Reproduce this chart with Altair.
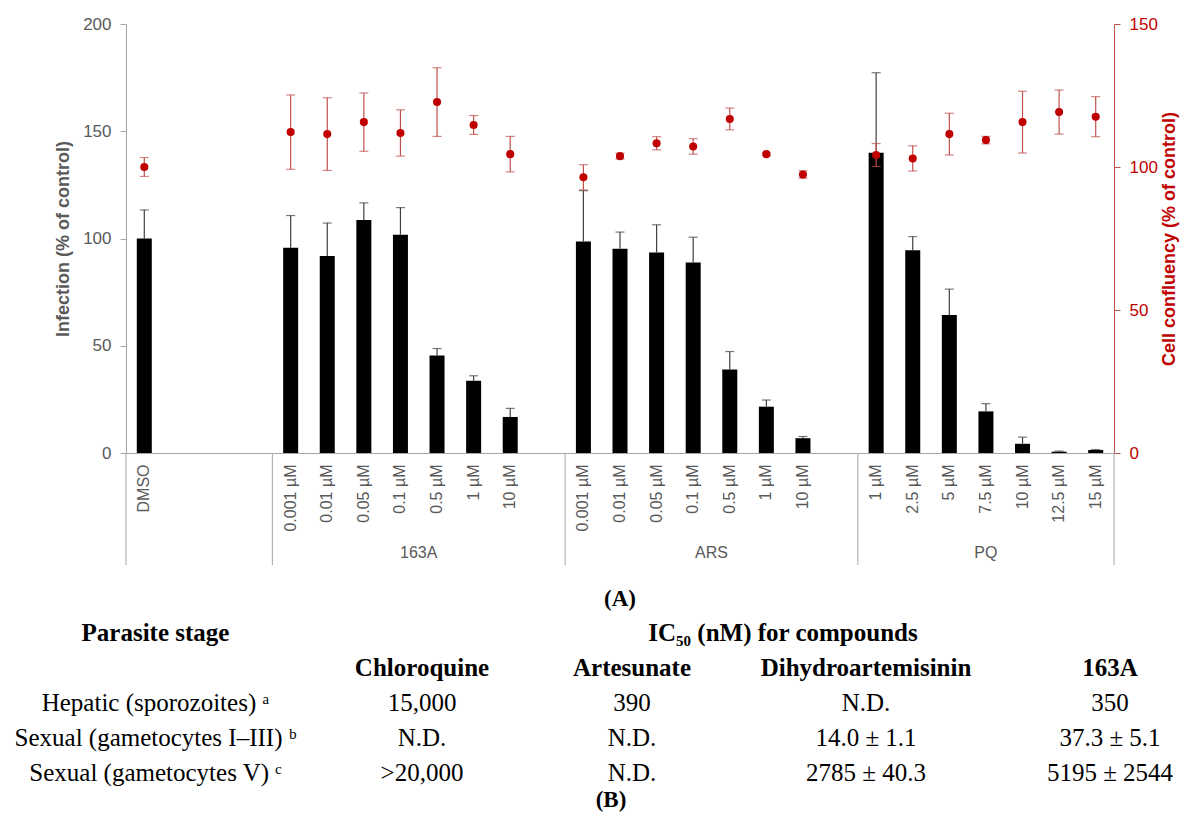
import altair as alt
import pandas as pd

# ---------------- categories ----------------
group_names = ["", "163A", "ARS", "PQ"]
dmso_conc = ["DMSO"]
a163_conc = ["0.001 µM", "0.01 µM", "0.05 µM", "0.1 µM", "0.5 µM", "1 µM", "10 µM"]
ars_conc = ["0.001 µM", "0.01 µM", "0.05 µM", "0.1 µM", "0.5 µM", "1 µM", "10 µM"]
pq_conc = ["1 µM", "2.5 µM", "5 µM", "7.5 µM", "10 µM", "12.5 µM", "15 µM"]
empty_slots_after = [3, 1, 1, 0]

# ---------------- infection (% of control), left axis ----------------
dmso_inf = [100.0]
dmso_inf_err = [13.3]
a163_inf = [95.7, 91.8, 108.6, 101.8, 45.4, 33.7, 16.8]
a163_inf_err = [15.0, 15.4, 8.0, 12.6, 3.3, 2.3, 4.0]
ars_inf = [98.6, 95.2, 93.5, 88.8, 38.9, 21.6, 6.9]
ars_inf_err = [23.7, 7.8, 12.9, 11.8, 8.4, 3.1, 0.8]
pq_inf = [140.0, 94.5, 64.3, 19.4, 4.3, 0.6, 1.4]
pq_inf_err = [37.3, 6.4, 12.1, 3.6, 3.1, 0.3, 0.2]

# ---------------- cell confluency (% of control), right axis ----------------
dmso_conf = [100.0]
dmso_conf_err = [3.3]
a163_conf = [112.2, 111.5, 115.7, 111.9, 122.7, 114.7, 104.5]
a163_conf_err = [13.0, 12.7, 10.2, 8.1, 12.0, 3.3, 6.2]
ars_conf = [96.4, 103.8, 108.3, 107.2, 116.8, 104.5, 97.4]
ars_conf_err = [4.4, 1.0, 2.3, 2.7, 3.8, 0.5, 1.3]
pq_conf = [104.2, 103.0, 111.5, 109.4, 115.7, 119.2, 117.6]
pq_conf_err = [4.0, 4.4, 7.3, 1.3, 10.8, 7.7, 7.0]

# ---------------- table (B) ----------------
table_stage_header = "Parasite stage"
table_ic50_header = "IC₅₀ (nM) for compounds"
table_compounds = ["Chloroquine", "Artesunate", "Dihydroartemisinin", "163A"]
table_stages = ["Hepatic (sporozoites) ᵃ", "Sexual (gametocytes I–III) ᵇ", "Sexual (gametocytes V) ᶜ"]
chloroquine_vals = ["15,000", "N.D.", ">20,000"]
artesunate_vals = ["390", "N.D.", "N.D."]
dha_vals = ["N.D.", "14.0 ± 1.1", "2785 ± 40.3"]
c163a_vals = ["350", "37.3 ± 5.1", "5195 ± 2544"]
panel_a = "(A)"
panel_b = "(B)"

# ---------------- build tables ----------------
groups = [
    ("", dmso_conc, dmso_inf, dmso_inf_err, dmso_conf, dmso_conf_err),
    ("163A", a163_conc, a163_inf, a163_inf_err, a163_conf, a163_conf_err),
    ("ARS", ars_conc, ars_inf, ars_inf_err, ars_conf, ars_conf_err),
    ("PQ", pq_conc, pq_inf, pq_inf_err, pq_conf, pq_conf_err),
]
keys, rows, sizes = [], [], []
for (g, conc, inf, ierr, conf, cerr), nblank in zip(groups, empty_slots_after):
    for c, i, ie, cf, ce in zip(conc, inf, ierr, conf, cerr):
        k = f"{g}|{c}"
        keys.append(k)
        rows.append(dict(key=k, inf=i, inf_hi=i + ie, conf=cf,
                         conf_lo=cf - ce, conf_hi=cf + ce))
    for b in range(nblank):
        keys.append(f"~{g}{b}|")
    sizes.append(len(conc) + nblank)
df = pd.DataFrame(rows)
n_slots = len(keys)

bounds = [0]
for s in sizes:
    bounds.append(bounds[-1] + s)
div_df = pd.DataFrame({"b": bounds})
grp_df = pd.DataFrame({
    "name": [g for g in group_names if g],
    "c": [(bounds[i] + bounds[i + 1]) / 2 for i, g in enumerate(group_names) if g],
})

tab_rows = []
tab_rows.append(dict(t=table_stage_header, col=0, row=0, w="bold"))
for j, c in enumerate(table_compounds):
    tab_rows.append(dict(t=c, col=j + 1, row=1, w="bold"))
for r, s in enumerate(table_stages):
    tab_rows.append(dict(t=s, col=0, row=r + 2, w="normal"))
for j, vals in enumerate([chloroquine_vals, artesunate_vals, dha_vals, c163a_vals]):
    for r, v in enumerate(vals):
        tab_rows.append(dict(t=v, col=j + 1, row=r + 2, w="normal"))
tab_df = pd.DataFrame(tab_rows)

# ---------------- styles ----------------
GRAY = "#595959"
LINE = "#A6A6A6"
RED = "#C00000"
REDLINE = "#C0504D"
W, H = 988, 429

band = alt.Scale(domain=keys, paddingInner=0.59, paddingOuter=0.295)
x_axis = alt.Axis(title=None, labelAngle=270, ticks=False, domainColor=LINE,
                  labelColor=GRAY, labelFontSize=16, labelPadding=11,
                  labelExpr="split(datum.label, '|')[1]", labelOverlap=False)
x_main = alt.X("key:N", scale=band, axis=x_axis)
x_plain = alt.X("key:N", scale=band, axis=None)

yl = alt.Scale(domain=[0, 200], nice=False)
yr = alt.Scale(domain=[0, 150], nice=False)
yl_axis = alt.Axis(title="Infection (% of control)", values=[0, 50, 100, 150, 200],
                   grid=False, domainColor=LINE, tickColor=LINE, tickSize=6,
                   labelColor=GRAY, labelFontSize=17, labelPadding=9,
                   titleColor=GRAY, titleFontSize=18, titleFontWeight="bold",
                   titlePadding=10)
yr_axis = alt.Axis(title="Cell confluency (% of control)", orient="right",
                   values=[0, 50, 100, 150], grid=False, domainColor=REDLINE,
                   tickColor=REDLINE, tickSize=6, labelColor=RED, labelFontSize=17,
                   labelPadding=9, titleColor=RED, titleFontSize=18,
                   titleFontWeight="bold", titleAngle=270, titlePadding=21)

base = alt.Chart(df)
bars = base.mark_bar(color="black").encode(
    x=x_main, y=alt.Y("inf:Q", scale=yl, axis=yl_axis))
bar_err = base.mark_rule(color="#404040", strokeWidth=1.2).encode(
    x=x_plain, y=alt.Y("inf:Q", scale=yl, axis=None), y2="inf_hi:Q")
bar_cap = base.mark_tick(orient="horizontal", size=9, thickness=1.2, color="#404040").encode(
    x=x_plain, y=alt.Y("inf_hi:Q", scale=yl, axis=None))

red_err = base.mark_rule(color=REDLINE, strokeWidth=1.2).encode(
    x=x_plain, y=alt.Y("conf_lo:Q", scale=yr, axis=None), y2="conf_hi:Q")
red_cap_hi = base.mark_tick(orient="horizontal", size=9, thickness=1.2, color=REDLINE).encode(
    x=x_plain, y=alt.Y("conf_hi:Q", scale=yr, axis=None))
red_cap_lo = base.mark_tick(orient="horizontal", size=9, thickness=1.2, color=REDLINE).encode(
    x=x_plain, y=alt.Y("conf_lo:Q", scale=yr, axis=None))
pts = base.mark_circle(size=65, color=RED, opacity=1).encode(
    x=x_plain, y=alt.Y("conf:Q", scale=yr, axis=yr_axis))

slot_scale = alt.Scale(domain=[0, n_slots], nice=False, zero=False)
dividers = alt.Chart(div_df).mark_rule(color=LINE, strokeWidth=1).encode(
    x=alt.X("b:Q", scale=slot_scale, axis=None),
    y=alt.value(H), y2=alt.value(H + 112))
grp_text = alt.Chart(grp_df).mark_text(fontSize=16, color=GRAY, baseline="middle").encode(
    x=alt.X("c:Q", scale=slot_scale, axis=None), y=alt.value(H + 100), text="name:N")

SERIF = "Liberation Serif"
tab_x = alt.Scale(domain=[0, 1, 2, 3, 4], range=[29.5, 296, 506, 740, 984], nice=False, zero=False)
tab_y = alt.Scale(domain=[0, 4], range=[617, 757], nice=False, zero=False)
tab_bold = alt.Chart(tab_df).transform_filter("datum.w == 'bold'").mark_text(
    font=SERIF, fontSize=25, fontWeight="bold", color="black", baseline="alphabetic").encode(
    x=alt.X("col:Q", scale=tab_x, axis=None), y=alt.Y("row:Q", scale=tab_y, axis=None), text="t:N")
tab_norm = alt.Chart(tab_df).transform_filter("datum.w == 'normal'").mark_text(
    font=SERIF, fontSize=25, color="black", baseline="alphabetic").encode(
    x=alt.X("col:Q", scale=tab_x, axis=None), y=alt.Y("row:Q", scale=tab_y, axis=None), text="t:N")
ic50 = alt.Chart(pd.DataFrame({"t": [table_ic50_header]})).mark_text(
    font=SERIF, fontSize=25, fontWeight="bold", color="black", baseline="alphabetic").encode(
    x=alt.value(657), y=alt.value(617), text="t:N")
lab_a = alt.Chart(pd.DataFrame({"t": [panel_a]})).mark_text(
    font=SERIF, fontSize=23, fontWeight="bold", color="black", baseline="alphabetic").encode(
    x=alt.value(494), y=alt.value(582), text="t:N")
lab_b = alt.Chart(pd.DataFrame({"t": [panel_b]})).mark_text(
    font=SERIF, fontSize=23, fontWeight="bold", color="black", baseline="alphabetic").encode(
    x=alt.value(485), y=alt.value(783), text="t:N")

chart = alt.layer(
    dividers, grp_text, bars, bar_err, bar_cap, red_err, red_cap_hi, red_cap_lo, pts,
    tab_bold, tab_norm, ic50, lab_a, lab_b,
).resolve_scale(x="independent", y="independent").properties(
    width=W, height=H,
    autosize=alt.AutoSizeParams(type="none"),
    padding={"left": 118, "top": 16, "right": 66, "bottom": 359},
).configure(font="Liberation Sans").configure_view(stroke=None)

chart.save("out.html", embed_options={"renderer": "svg", "actions": False})
